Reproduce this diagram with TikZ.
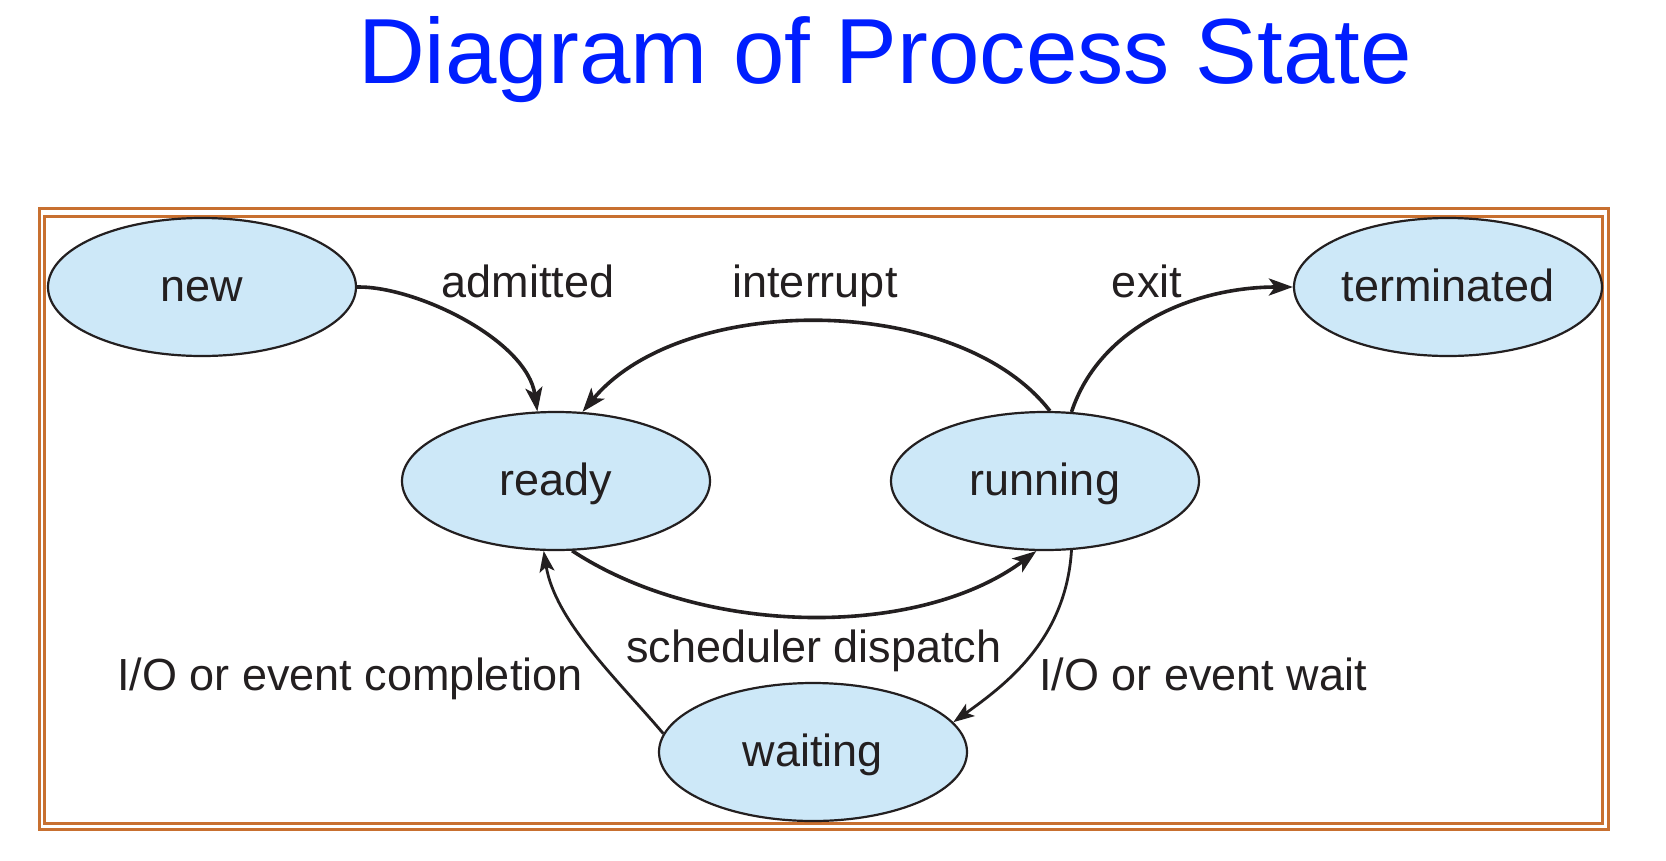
\documentclass[tikz,border=0pt]{standalone}
\usepackage{fontspec}
\setmainfont{Liberation Sans}
\usetikzlibrary{shapes.geometric,arrows.meta}
\definecolor{framec}{RGB}{200,112,48}
\definecolor{titleblue}{RGB}{0,30,255}
\definecolor{statefill}{RGB}{205,232,248}
\definecolor{ink}{RGB}{35,31,32}
\tikzset{
  state/.style={ellipse, draw=ink, line width=2.2pt, fill=statefill,
    minimum width=308pt, minimum height=138pt, inner sep=0pt,
    text=ink, font=\fontsize{45}{50}\selectfont, text height=32pt, text depth=3pt},
  lbl/.style={anchor=base, text=ink, font=\fontsize{45}{50}\selectfont, inner sep=0pt},
  thick edge/.style={draw=ink, line width=3.6pt, -{Stealth[length=24pt,width=17pt,inset=6pt]}},
  thin edge/.style={draw=ink, line width=2.8pt, -{Stealth[length=21pt,width=15pt,inset=5pt]}},
  frameout/.style={draw=framec, line width=3pt},
  framein/.style={draw=framec, line width=2.6pt}
}
\begin{document}
\begin{tikzpicture}[x=1pt,y=-1pt]
\useasboundingbox[fill=white] (0,0) rectangle (1666,860);
% title
\node[anchor=base, text=titleblue, font=\fontsize{92.5}{100}\selectfont, inner sep=0pt] (title) at (885,83) {Diagram of Process State};
% frame
\draw[frameout] (39,208.8) rectangle (1608.8,829.8);
\draw[framein] (44.7,216.5) rectangle (1602.7,823.5);
% states
\node[state] (new) at (202,287) {new};
\node[state] (ready) at (556,481) {ready};
\node[state] (running) at (1045,481) {running};
\node[state] (terminated) at (1448,287) {terminated};
\node[state] (waiting) at (813,752) {waiting};
% edges
\draw[thick edge] (new.east) .. controls (416,286) and (527,340) .. (ready.105);
\draw[thick edge] (running.86) .. controls (958,292) and (682,292) .. (ready.69);
\draw[thick edge] (running.69) .. controls (1100,326) and (1195,287) .. (terminated.west);
\draw[thick edge] (ready.283) .. controls (705,638) and (920,638) .. (running.263);
\draw[thin edge] (running.291) .. controls (1066,640) and (1005,685) .. (waiting.12);
\draw[thin edge] (waiting.173) .. controls (617,679) and (555,621) .. (ready.260);
% labels
\node[lbl] (ladm) at (528,297) {admitted};
\node[lbl] (lint) at (815,297) {interrupt};
\node[lbl] (lexit) at (1147,297) {exit};
\node[lbl] (lsched) at (814,662) {scheduler dispatch};
\node[lbl] (lcomp) at (350,690) {I/O or event completion};
\node[lbl] (lwait) at (1203,690) {I/O or event wait};
\end{tikzpicture}
\end{document}
